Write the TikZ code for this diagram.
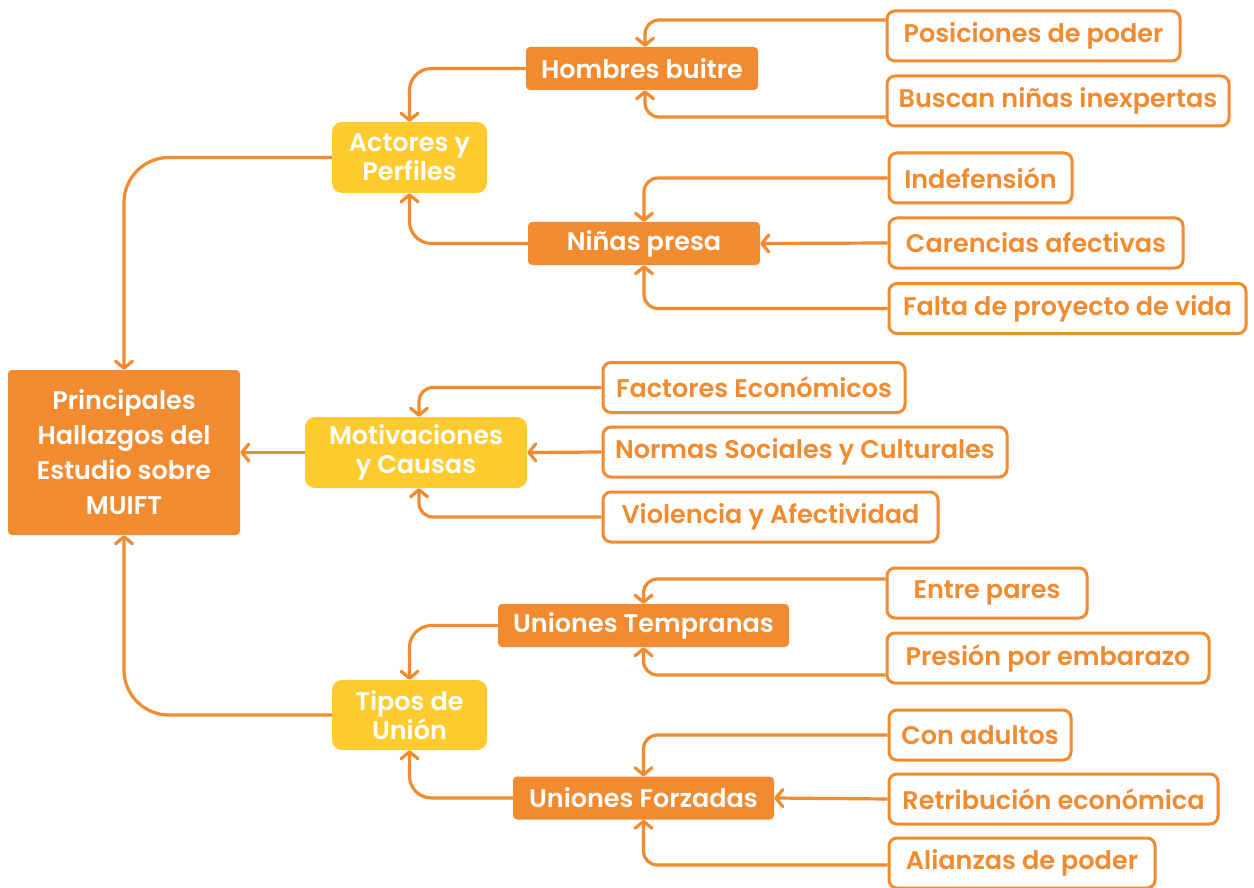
\documentclass[tikz,border=0pt]{standalone}
\usepackage{fontspec}
\IfFontExistsTF{Poppins SemiBold}{\setmainfont{Poppins SemiBold}}{\setmainfont{Poppins}[UprightFont=* Bold]}
\usetikzlibrary{arrows.meta}
\definecolor{org}{HTML}{F28A30}
\definecolor{yel}{HTML}{FFCB2F}
\tikzset{
  conn/.style={draw=org, line width=3.2pt, -{Straight Barb[length=7pt,width=17pt,line cap=round,line join=round]}},
  mainbox/.style={fill=org, text=white, rounded corners=4pt, align=center, font=\fontsize{25.5}{35}\selectfont, inner sep=0pt},
  catbox/.style={fill=yel, text=white, rounded corners=10pt, align=center, font=\fontsize{25.5}{29}\selectfont, inner sep=0pt},
  subbox/.style={fill=org, text=white, rounded corners=4pt, font=\fontsize{25.5}{29}\selectfont, inner sep=0pt, minimum height=43pt},
  leaf/.style={draw=org, line width=3pt, fill=white, text=org, rounded corners=8pt, font=\fontsize{25.5}{29}\selectfont, inner sep=0pt, minimum height=50pt},
}
\begin{document}
\begin{tikzpicture}[x=1pt,y=-1pt]
\useasboundingbox[fill=white] (0,0) rectangle (1254,888);
% main
\node[mainbox, minimum width=232pt, minimum height=165pt] (main) at (124,452.5) {Principales\\Hallazgos del\\Estudio sobre\\MUIFT};
% categories
\node[catbox, minimum width=155pt, minimum height=71pt] (act) at (409.5,157.5) {Actores y\\Perfiles};
\node[catbox, minimum width=222pt, minimum height=71pt] (mot) at (416,452.5) {Motivaciones\\y Causas};
\node[catbox, minimum width=155pt, minimum height=70pt] (tip) at (409.5,715) {Tipos de\\Unión};
% sub
\node[subbox, minimum width=232pt] (hb) at (642,68.5) {Hombres buitre};
\node[subbox, minimum width=232pt] (np) at (644,243.5) {Niñas presa};
\node[subbox, minimum width=291pt] (ut) at (643.5,625.5) {Uniones Tempranas};
\node[subbox, minimum width=261pt] (uf) at (643.5,798) {Uniones Forzadas};
% leaves
\node[leaf, minimum width=293pt] (l1) at (1033.5,36) {Posiciones de poder};
\node[leaf, minimum width=342pt] (l2) at (1058,101) {Buscan niñas inexpertas};
\node[leaf, minimum width=183pt] (l3) at (980.5,178) {Indefensión};
\node[leaf, minimum width=294pt] (l4) at (1036,243) {Carencias afectivas};
\node[leaf, minimum width=357pt] (l5) at (1067.5,308.5) {Falta de proyecto de vida};
\node[leaf, minimum width=302pt] (l6) at (754,387.5) {Factores Económicos};
\node[leaf, minimum width=404pt] (l7) at (805,452) {Normas Sociales y Culturales};
\node[leaf, minimum width=335pt] (l8) at (770.5,517) {Violencia y Afectividad};
\node[leaf, minimum width=200pt] (l9) at (987,593) {Entre pares};
\node[leaf, minimum width=322pt] (l10) at (1048,658) {Presión por embarazo};
\node[leaf, minimum width=182pt] (l11) at (980,735) {Con adultos};
\node[leaf, minimum width=329pt] (l12) at (1053.5,799) {Retribución económica};
\node[leaf, minimum width=266pt] (l13) at (1022,863) {Alianzas de poder};
% connectors to main
\draw[conn, rounded corners=45pt] (act.west) -| (main.north);
\draw[conn, rounded corners=45pt] (tip.west) -| (main.south);
\draw[conn] (mot.west) -- (main.east);
% to categories
\draw[conn, rounded corners=22pt] (hb.west) -| (act.north);
\draw[conn, rounded corners=22pt] (np.west) -| (act.south);
\draw[conn, rounded corners=22pt] (ut.west) -| (tip.north);
\draw[conn, rounded corners=22pt] (uf.west) -| (tip.south);
% leaves to subs
\draw[conn, rounded corners=14pt] ([yshift=16pt]l1.west) -| ([xshift=3pt]hb.north);
\draw[conn, rounded corners=14pt] ([yshift=-16pt]l2.west) -| ([xshift=3pt]hb.south);
\draw[conn, rounded corners=14pt] (l3.west) -| (np.north);
\draw[conn] (l4.west) -- (np.east);
\draw[conn, rounded corners=14pt] (l5.west) -| (np.south);
\draw[conn, rounded corners=14pt] (l6.west) -| ([xshift=3pt]mot.north);
\draw[conn] (l7.west) -- (mot.east);
\draw[conn, rounded corners=14pt] (l8.west) -| ([xshift=3pt]mot.south);
\draw[conn, rounded corners=14pt] ([yshift=14pt]l9.west) -| (ut.north);
\draw[conn, rounded corners=14pt] ([yshift=-17pt]l10.west) -| (ut.south);
\draw[conn, rounded corners=14pt] (l11.west) -| (uf.north);
\draw[conn] (l12.west) -- (uf.east);
\draw[conn, rounded corners=14pt] ([yshift=-2pt]l13.west) -| (uf.south);
\end{tikzpicture}
\end{document}
